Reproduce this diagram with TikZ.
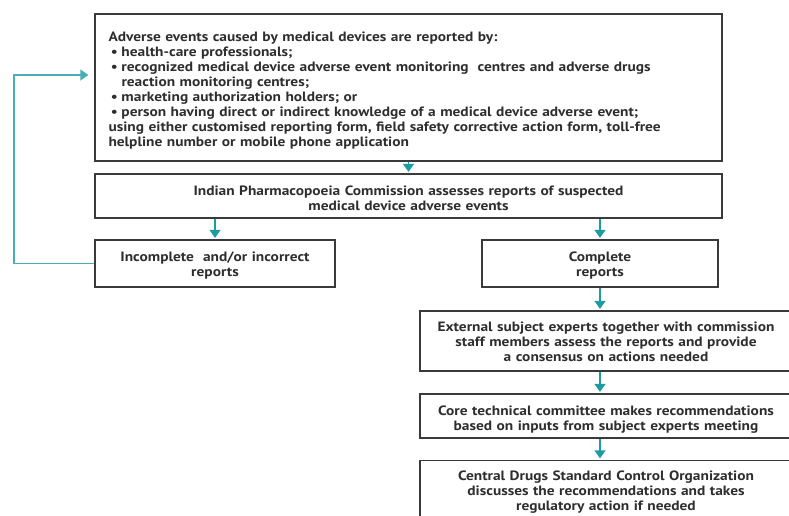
\documentclass[tikz,border=0pt]{standalone}
\usepackage{fontspec}
\setmainfont{PT Sans}[FakeStretch=1.14]
\usetikzlibrary{arrows.meta}
\definecolor{teal1}{HTML}{1C9CA2}
\definecolor{teal2}{HTML}{46AFB8}
\definecolor{boxline}{HTML}{3A3A3A}
\definecolor{txt}{HTML}{2E2E2E}
\newcommand\fixht[1]{\rule{0pt}{#1}}
\begin{document}
\begin{tikzpicture}[x=1pt,y=-1pt,
  box/.style={draw=boxline,line width=1.3pt,inner sep=0pt,text=txt,align=center,
    font=\fontsize{13.5}{15}\selectfont\bfseries},
  topbox/.style={box},
  arr/.style={draw=teal1,line width=1.3pt,-{Triangle[width=11pt,length=8pt]},shorten >=1.5pt},
  fb/.style={draw=teal2,line width=1.3pt,-{Triangle[width=11pt,length=8pt]}}]
\path[use as bounding box] (0,0) rectangle (789,516);
\clip (0,0) rectangle (789,516);
\node[topbox,minimum width=627pt,minimum height=147pt,text width=600pt,align=left] (top) at (408.5,87.5)
{\fixht{16pt}Adverse events caused by medical devices are reported by:\\
\makebox[13pt][l]{\,•}health-care professionals;\\
\makebox[13pt][l]{\,•}recognized medical device adverse event monitoring\ \ centres and adverse drugs\\
\hspace*{13pt}reaction monitoring centres;\\
\makebox[13pt][l]{\,•}marketing authorization holders; or\\
\makebox[13pt][l]{\,•}person having direct or indirect knowledge of a medical device adverse event;\\
using either customised reporting form, field safety corrective action form, toll-free\\
helpline number or mobile phone application};
\node[topbox,minimum width=627pt,minimum height=44pt,text width=600pt] (ipc) at (408.5,196)
{\fixht{14pt}Indian Pharmacopoeia Commission assesses reports of suspected\\medical device adverse events};
\node[box,minimum width=240pt,minimum height=47pt,text width=230pt] (inc) at (215,263.5)
{\fixht{13pt}Incomplete\ \ and/or incorrect\\reports};
\node[box,minimum width=236pt,minimum height=47pt,text width=226pt] (comp) at (600,263.5)
{\fixht{13pt}Complete\\reports};
\node[box,minimum width=372pt,minimum height=60pt,text width=368pt] (ext) at (606,341)
{\fixht{12pt}External subject experts together with commission\\staff members assess the reports and provide\\a consensus on actions needed};
\node[box,minimum width=372pt,minimum height=44pt,text width=368pt] (core) at (606,416)
{\fixht{16pt}Core technical committee makes recommendations\\based on inputs from subject experts meeting};
\node[box,minimum width=372pt,minimum height=64pt,text width=368pt] (cdsco) at (606,492.5)
{Central Drugs Standard Control Organization\\discusses the recommendations and takes\\regulatory action if needed};
\draw[arr] (top.south) -- (ipc.north);
\draw[arr] (ipc.south -| inc.north) -- (inc.north);
\draw[arr] (ipc.south -| comp.north) -- (comp.north);
\draw[arr] (comp.south) -- (comp.south |- ext.north);
\draw[arr] (ext.south -| comp.south) -- (comp.south |- core.north);
\draw[arr] (core.south -| comp.south) -- (comp.south |- cdsco.north);
\coordinate (c1) at (14,75);
\draw[fb] (inc.west) -| (c1) -- ([xshift=-6pt]top.west |- c1);
\end{tikzpicture}
\end{document}
